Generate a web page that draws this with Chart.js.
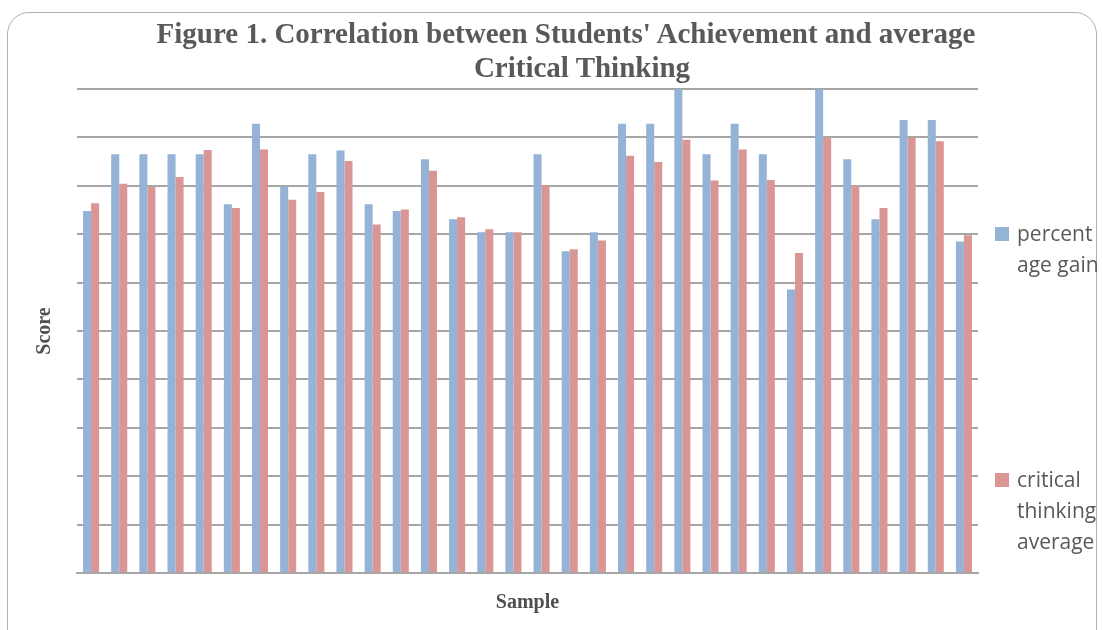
<!DOCTYPE html>
<html>
<head>
<meta charset="utf-8">
<script src="https://cdn.jsdelivr.net/npm/chart.js@4/dist/chart.umd.min.js"></script>
<style>
  html, body { margin: 0; padding: 0; background: #fff; overflow: hidden; }
  #wrap { position: relative; width: 1102px; height: 630px; }
  #card { position: absolute; left: 7px; top: 12px; width: 1090px; height: 640px;
          border: 1.5px solid #b0b0b0; border-radius: 22px; box-sizing: border-box; }
  canvas { position: absolute; left: 0; top: 0; }
  .ttl { position: absolute; left: 0; text-align: center; white-space: nowrap;
         font-family: "Liberation Serif", "Times New Roman", serif; font-weight: bold;
         font-size: 29px; line-height: 34px; color: #595959; }
  .leg { position: absolute; left: 995px; font-family: "Open Sans", sans-serif; font-size: 21px;
         line-height: 31px; color: #595959; white-space: nowrap; }
  .leg i { position: absolute; left: 0; top: 9px; width: 14px; height: 14px; }
  .leg span { display: block; margin-left: 22px; }
</style>
</head>
<body>
<div id="wrap">
  <div id="card"></div>
  <canvas id="chart" width="1102" height="630"></canvas>
  <div class="ttl" style="top:16px; width:1132px">Figure 1. Correlation between Students' Achievement and average</div>
  <div class="ttl" style="top:50px; width:1164px">Critical Thinking</div>
  <div class="leg" style="top:218px"><i style="background:#95b3d7"></i><span>percent<br>age gain</span></div>
  <div class="leg" style="top:464px"><i style="background:#d99694"></i><span>critical<br>thinking<br>average</span></div>
</div>
<script>
var samples = [];
for (var i = 1; i <= 32; i++) samples.push(String(i));

var percentageGain = [74.8, 86.5, 86.5, 86.5, 86.5, 76.2, 92.8, 79.8, 86.5, 87.3, 76.2, 74.8, 85.5, 73.1, 70.4, 70.4,
                      86.5, 66.5, 70.4, 92.8, 92.8, 100, 86.5, 92.8, 86.5, 58.6, 100, 85.5, 73.1, 93.6, 93.6, 68.5];
var criticalThinking = [76.4, 80.4, 79.8, 81.8, 87.4, 75.4, 87.5, 77.1, 78.7, 85.1, 72.0, 75.1, 83.1, 73.5, 71.0, 70.4,
                        80.1, 66.9, 68.7, 86.2, 84.9, 89.5, 81.1, 87.5, 81.2, 66.1, 90.0, 80.0, 75.4, 90.0, 89.2, 69.8];

var serif = "'Liberation Serif', 'Times New Roman', serif";

new Chart(document.getElementById("chart"), {
    type: "bar",
    data: {
        labels: samples,
        datasets: [{
            label: "percentage gain",
            data: percentageGain,
            backgroundColor: "#95b3d7",
            barPercentage: 1,
            categoryPercentage: 0.57
        }, {
            label: "critical thinking average",
            data: criticalThinking,
            backgroundColor: "#d99694",
            barPercentage: 1,
            categoryPercentage: 0.57
        }]
    },
    options: {
        responsive: false,
        animation: false,
        layout: { padding: { left: 20, right: 124, top: 89, bottom: 15 } },
        plugins: {
            legend: { display: false },
            tooltip: { enabled: false },
            title: { display: false }
        },
        scales: {
            x: {
                grid: { display: false, drawTicks: false },
                border: { display: true, color: "#a6a6a6", width: 2 },
                ticks: { display: false },
                title: {
                    display: true, text: "Sample", color: "#505050",
                    font: { family: serif, size: 20, weight: "bold", lineHeight: 1.2 },
                    padding: { top: 18, bottom: 0 }
                }
            },
            y: {
                min: 0, max: 100,
                ticks: { display: false, stepSize: 10 },
                grid: { color: "#a6a6a6", lineWidth: 2, drawTicks: false },
                border: { display: false },
                title: {
                    display: true, text: "Score", color: "#505050",
                    font: { family: serif, size: 20, weight: "bold", lineHeight: 1.2 },
                    padding: { top: 13, bottom: 20 }
                }
            }
        }
    }
});
</script>
</body>
</html>
